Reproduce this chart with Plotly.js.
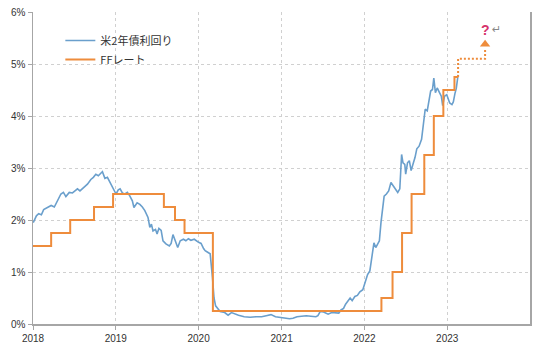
<!DOCTYPE html>
<html>
<head>
<meta charset="utf-8">
<script src="https://cdn.plot.ly/plotly-3.0.1.min.js"></script>
<style>html,body{margin:0;padding:0;background:#fff;}#chart{width:540px;height:349px;}</style>
</head>
<body>
<div id="chart"></div>
<script>
// US 2-year Treasury yield (%)
const yieldDates = [
'2018-01-02','2018-01-16','2018-01-26','2018-02-07','2018-02-17','2018-03-08','2018-03-22','2018-04-05','2018-04-19','2018-05-04',
'2018-05-15','2018-05-26','2018-06-10','2018-06-24','2018-07-05','2018-07-16','2018-07-27','2018-08-14','2018-08-29','2018-09-13',
'2018-09-24','2018-10-05','2018-10-16','2018-10-27','2018-11-03','2018-11-14','2018-11-25','2018-12-02','2018-12-17','2019-01-02',
'2019-01-12','2019-01-20','2019-01-30','2019-02-10','2019-02-21','2019-03-03','2019-03-15','2019-03-22','2019-04-05','2019-04-17',
'2019-04-28','2019-05-09','2019-05-23','2019-05-31','2019-06-07','2019-06-14','2019-06-25','2019-07-02','2019-07-10','2019-07-20',
'2019-07-28','2019-08-10','2019-08-25','2019-09-02','2019-09-10','2019-09-20','2019-10-01','2019-10-12','2019-10-26','2019-11-06',
'2019-11-17','2019-11-28','2019-12-13','2020-01-01','2020-01-12','2020-01-23','2020-01-30','2020-02-10','2020-02-21','2020-03-02',
'2020-03-09','2020-03-16','2020-03-25','2020-04-05','2020-04-25','2020-05-10','2020-05-25','2020-06-10','2020-06-25','2020-07-20',
'2020-08-15','2020-09-10','2020-10-05','2020-10-25','2020-11-15','2020-12-05','2021-01-01','2021-01-20','2021-02-05','2021-02-20',
'2021-03-10','2021-03-30','2021-04-20','2021-05-10','2021-06-01','2021-06-10','2021-06-20','2021-07-05','2021-07-25','2021-08-10',
'2021-08-25','2021-09-10','2021-09-20','2021-10-01','2021-10-10','2021-10-20','2021-10-30','2021-11-08','2021-11-20','2021-12-01',
'2021-12-12','2021-12-25','2022-01-05','2022-01-15','2022-01-25','2022-02-05','2022-02-12','2022-02-20','2022-03-08','2022-03-15',
'2022-03-22','2022-03-29','2022-04-08','2022-04-18','2022-04-28','2022-05-08','2022-05-18','2022-05-28','2022-06-06','2022-06-14',
'2022-06-20','2022-06-28','2022-07-02','2022-07-10','2022-07-18','2022-07-26','2022-08-05','2022-08-12','2022-08-20','2022-08-30',
'2022-09-10','2022-09-20','2022-09-26','2022-10-05','2022-10-12','2022-10-20','2022-10-28','2022-11-03','2022-11-10','2022-11-18',
'2022-11-28','2022-12-06','2022-12-12','2022-12-20','2022-12-30','2023-01-12','2023-01-22','2023-01-28','2023-02-04','2023-02-10',
'2023-02-18'
];
const yieldValues = [
1.95,2.08,2.12,2.10,2.20,2.25,2.28,2.25,2.37,2.50,
2.53,2.45,2.53,2.52,2.56,2.60,2.56,2.63,2.69,2.78,
2.82,2.88,2.85,2.90,2.93,2.80,2.82,2.76,2.62,2.50,
2.58,2.60,2.52,2.50,2.53,2.47,2.37,2.24,2.33,2.30,
2.25,2.18,2.05,1.86,1.92,1.79,1.82,1.73,1.84,1.80,
1.60,1.54,1.50,1.55,1.72,1.60,1.47,1.60,1.63,1.60,
1.64,1.61,1.63,1.57,1.55,1.45,1.41,1.38,1.35,0.90,
0.50,0.35,0.30,0.24,0.22,0.17,0.22,0.19,0.17,0.14,
0.13,0.14,0.14,0.16,0.18,0.14,0.12,0.11,0.10,0.11,
0.14,0.15,0.16,0.15,0.14,0.16,0.24,0.23,0.19,0.22,
0.21,0.21,0.27,0.30,0.38,0.43,0.50,0.45,0.53,0.55,
0.62,0.66,0.80,0.95,1.02,1.30,1.56,1.47,1.60,1.95,
2.24,2.46,2.50,2.56,2.72,2.65,2.59,2.53,2.60,3.26,
3.10,3.07,2.88,3.10,3.14,2.95,3.10,3.20,3.37,3.42,
3.55,3.95,4.13,4.10,4.32,4.48,4.51,4.73,4.45,4.54,
4.45,4.38,4.20,4.38,4.41,4.25,4.22,4.27,4.43,4.53,
4.79
];
// Federal funds rate (upper bound, %)
const ffDates = ['2018-01-01','2018-03-22','2018-06-14','2018-09-27','2018-12-20','2019-08-01','2019-09-19','2019-10-31','2020-03-04','2022-03-17','2022-05-05','2022-06-16','2022-07-28','2022-09-22','2022-11-03','2022-12-15','2023-02-02','2023-02-18'];
const ffValues = [1.50,1.75,2.00,2.25,2.50,2.25,2.00,1.75,0.25,0.50,1.00,1.75,2.50,3.25,4.00,4.50,4.75,4.75];
// projection path
const fcDates = ['2023-02-18','2023-02-18','2023-06-17','2023-06-17'];
const fcValues = [4.75,5.10,5.10,5.30];
const arrowDate = ['2023-06-17'];
const arrowValue = [5.38];
const qDate = '2023-06-17';
const qValue = 5.66;
const names = ['米2年債利回り','FFレート'];
const yTickVals = [0,1,2,3,4,5,6];
const yTickText = ['0%','1%','2%','3%','4%','5%','6%'];
const xTickVals = ['2018-01-01','2019-01-01','2020-01-01','2021-01-01','2022-01-01','2023-01-01'];
const xTickText = ['2018','2019','2020','2021','2022','2023'];

const blue = '#6a9fcc';
const orange = '#ee8c3c';
const fontFam = '"Liberation Sans", Arial, "Noto Sans CJK JP", sans-serif';

const traces = [
  {x: yieldDates, y: yieldValues, name: names[0], type: 'scatter', mode: 'lines',
   line: {color: blue, width: 1.6}},
  {x: ffDates, y: ffValues, name: names[1], type: 'scatter', mode: 'lines',
   line: {color: orange, width: 2, shape: 'hv'}},
  {x: fcDates, y: fcValues, type: 'scatter', mode: 'lines', showlegend: false,
   line: {color: orange, width: 2, dash: '2px,2px'}},
  {x: arrowDate, y: arrowValue, type: 'scatter', mode: 'markers', showlegend: false,
   marker: {symbol: 'triangle-up', size: 9, color: orange}}
];

const layout = {
  width: 540, height: 349,
  margin: {l: 33, r: 10, t: 12, b: 25},
  paper_bgcolor: '#fff', plot_bgcolor: '#fff',
  font: {family: fontFam, size: 10, color: '#333'},
  showlegend: true,
  legend: {x: 0.055, y: 0.955, xanchor: 'left', yanchor: 'top', bgcolor: 'rgba(0,0,0,0)',
           font: {family: '"Noto Sans CJK JP", sans-serif', size: 11, color: '#333'},
           tracegroupgap: 0, itemwidth: 30},
  xaxis: {type: 'date', range: ['2018-01-01','2024-01-01'], tickvals: xTickVals, ticktext: xTickText,
          showgrid: true, gridcolor: '#d0d0d0', griddash: '3px,3px', gridwidth: 1,
          showline: true, linecolor: '#a6a6a6', linewidth: 1.5, ticks: 'outside', ticklen: 4, tickcolor: '#a6a6a6',
          zeroline: false, fixedrange: true, tickfont: {size: 10, color: '#333'}},
  yaxis: {range: [0, 6], tickvals: yTickVals, ticktext: yTickText,
          showgrid: true, gridcolor: '#d0d0d0', griddash: '3px,3px', gridwidth: 1,
          showline: true, mirror: true, linecolor: '#a6a6a6', linewidth: 1.5, ticks: 'outside', ticklen: 4, tickcolor: '#a6a6a6',
          zeroline: false, fixedrange: true, tickfont: {size: 10, color: '#333'}},
  annotations: [
    {x: qDate, y: qValue, xref: 'x', yref: 'y', text: '<b>?</b>', showarrow: false,
     font: {size: 14, color: '#d6336c', family: fontFam}},
    {x: qDate, y: qValue, xref: 'x', yref: 'y', xshift: 11, text: '↵', showarrow: false,
     font: {size: 11, color: '#888', family: '"DejaVu Sans", sans-serif'}}
  ]
};

Plotly.newPlot('chart', traces, layout, {displayModeBar: false, staticPlot: true});
</script>
</body>
</html>
